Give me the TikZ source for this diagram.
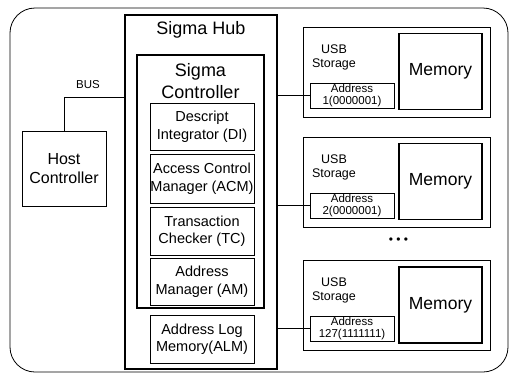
\documentclass[tikz,border=0pt]{standalone}
\usepackage{fontspec}
\setmainfont{Liberation Sans}
\begin{document}
\begin{tikzpicture}[x=1pt,y=-1pt,
    thin box/.style={draw,line width=0.8pt,inner sep=0pt,align=center},
    thick box/.style={draw,line width=2pt,inner sep=0pt},
    part/.style={thin box,minimum width=104pt,font=\fontsize{14.5}{17.5}\selectfont},
    usb/.style={thin box,minimum width=187pt,minimum height=90pt},
    mem/.style={draw,line width=1.2pt,inner sep=0pt,minimum width=83pt,minimum height=76pt,
        font=\fontsize{17.5}{20}\selectfont},
    addr/.style={thin box,minimum width=84pt,minimum height=25pt,font=\fontsize{11.5}{12}\selectfont},
    usbtxt/.style={align=center,inner sep=0pt,font=\fontsize{12.5}{14}\selectfont}]
    \useasboundingbox (0,0) rectangle (511,376);
    \draw[line width=0.8pt,rounded corners=25pt] (10,8) rectangle (508,372);
    \node[thick box,minimum width=152pt,minimum height=354pt] (hub) at (201,192) {};
    \node[font=\fontsize{18}{22}\selectfont] (hubtxt) at (201,30) {Sigma Hub};
    \node[thick box,minimum width=127pt,minimum height=253pt] (ctrl) at (200.5,181.5) {};
    \node[align=center,font=\fontsize{18}{22}\selectfont] (ctrltxt) at (200.5,81) {Sigma\\Controller};
    \node[part,minimum height=47pt] (di) at (202,126.5) {Descript\\Integrator (DI)};
    \node[part,minimum height=49pt] (acm) at (202,178.5) {Access Control\\Manager (ACM)};
    \node[part,minimum height=48pt] (tc) at (202,231) {Transaction\\Checker (TC)};
    \node[part,minimum height=47pt] (am) at (202,281.5) {Address\\Manager (AM)};
    \node[part,minimum height=48pt] (alm) at (202,339) {Address Log\\Memory(ALM)};
    \node[thin box,minimum width=84pt,minimum height=75pt,font=\fontsize{16}{19}\selectfont]
        (host) at (64,168.5) {Host\\Controller};
    \coordinate (busend) at (hub.west |- 0,97);
    \draw[line width=0.8pt] (host.north) |- (busend);
    \node[font=\fontsize{11.5}{12}\selectfont] (bus) at (88,85) {BUS};
    \node[usb] (usb1) at (396.5,72.5) {};
    \node[mem] (mem1) at (440.5,71.5) {Memory};
    \node[usbtxt] (st1) at (334,57) {USB\\Storage};
    \node[addr] (addr1) at (352,95.5) {Address\\1(0000001)};
    \node[usb] (usb2) at (396.5,182) {};
    \node[mem] (mem2) at (440.5,181.5) {Memory};
    \node[usbtxt] (st2) at (334,167) {USB\\Storage};
    \node[addr] (addr2) at (352,205.5) {Address\\2(0000001)};
    \node[usb] (usb3) at (396.5,305) {};
    \node[mem] (mem3) at (440.5,305) {Memory};
    \node[usbtxt] (st3) at (334,290) {USB\\Storage};
    \node[addr] (addr3) at (352,328.5) {Address\\127(1111111)};
    \node[font=\fontsize{12}{12}\selectfont] (dots) at (398.5,241) {• • •};
    \draw[line width=0.8pt] (addr1.west) -- (addr1.west -| hub.east);
    \draw[line width=0.8pt] (addr2.west) -- (addr2.west -| hub.east);
    \draw[line width=0.8pt] (addr3.west) -- (addr3.west -| hub.east);
\end{tikzpicture}
\end{document}
